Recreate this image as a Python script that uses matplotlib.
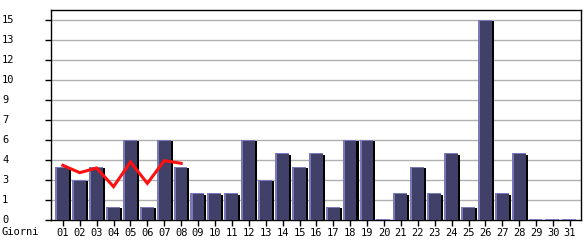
import numpy as np
import matplotlib.pyplot as plt
import matplotlib.transforms as mtransforms

# Dati
giorni = ["01", "02", "03", "04", "05", "06", "07", "08", "09", "10",
          "11", "12", "13", "14", "15", "16", "17", "18", "19", "20",
          "21", "22", "23", "24", "25", "26", "27", "28", "29", "30", "31"]
visite = [4, 3, 4, 1, 6, 1, 6, 4, 2, 2,
          2, 6, 3, 5, 4, 5, 1, 6, 6, 0,
          2, 4, 2, 5, 1, 15, 2, 5, 0, 0, 0]
media = [4.1, 3.55, 3.9, 2.5, 4.35, 2.75, 4.45, 4.25]
ytick_vals = [0, 1.5, 3, 4.5, 6, 7.5, 9, 10.5, 12, 13.5, 15]

W, H = 585, 240
fig = plt.figure(figsize=(W / 100, H / 100), dpi=100)
ax = fig.add_axes([51 / W, 20 / H, 530 / W, 210 / H])

font = dict(family="DejaVu Sans Mono", size=7.5)

x = np.arange(len(visite))
h = np.array(visite, dtype=float)

lav = "#7a7ab8"
fill = "#404068"

# ombra nera a destra
ax.bar(x + 0.37, np.where(h > 0, h - 0.1, 0), width=0.12, align="edge",
       color="black", zorder=3)
# bordo chiaro
ax.bar(x - 0.45, np.maximum(h, 0.1), width=0.82, align="edge",
       color=lav, zorder=3)
# corpo della barra
ax.bar(x - 0.33, np.where(h > 0, h - 0.08, 0), width=0.70, align="edge",
       color=fill, zorder=4)

# linea rossa
ax.plot(x[:len(media)], media, color="#ff1010", lw=2.2, zorder=5,
        solid_joinstyle="miter")

ax.set_xlim(-0.7, 30.65)
ax.set_ylim(0, 15.75)

for v in ytick_vals[1:]:
    ax.axhline(v, color="#b0b0b0", lw=1.0, zorder=1)

for s in ax.spines.values():
    s.set_color("black")
    s.set_linewidth(1.0)

ax.set_yticks(ytick_vals)
ax.set_yticklabels([])
ax.tick_params(axis="y", length=4.3, width=1.0, color="black")
ax.set_xticks(x)
ax.set_xticklabels(giorni, **font)
ax.tick_params(axis="x", length=4.3, width=1.0, pad=1.2, color="black")

trans = mtransforms.blended_transform_factory(fig.transFigure, ax.transData)
for v in ytick_vals:
    ax.text(2 / W, v, str(int(v)), transform=trans, ha="left", va="center",
            **font)
fig.text(2 / W, 1 - 232 / H, "Giorni", ha="left", va="center", **font)

fig.savefig("out.png", dpi=100)
